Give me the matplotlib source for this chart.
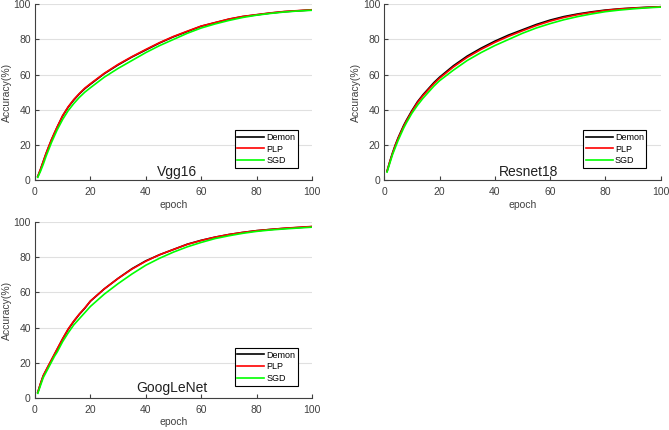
import matplotlib.pyplot as plt

plt.rcParams['font.family'] = ['Liberation Sans', 'DejaVu Sans']

epochs = [1, 2, 3, 4, 5, 6, 7, 8, 10, 12, 14, 16, 18, 20, 25, 30, 35, 40, 45, 50,
          55, 60, 65, 70, 75, 80, 85, 90, 95, 100]

vgg_demon = [2, 6, 10.5, 15, 19, 23, 26.5, 30, 36.5, 41.5, 45.5, 49, 52, 54.5, 60.5, 65.5,
             70, 74, 78, 81.5, 84.5, 87.5, 89.5, 91.5, 93, 94, 95, 95.8, 96.3, 96.8]
vgg_plp = [2, 6.2, 10.7, 15.2, 19.3, 23.2, 26.8, 30.2, 36.7, 41.7, 45.8, 49.2, 52.3, 54.8, 60.7, 65.8,
           70.2, 74.3, 78.2, 81.7, 84.7, 87.6, 89.6, 91.6, 93.1, 94.1, 95.1, 95.9, 96.4, 96.9]
vgg_sgd = [1.5, 5, 9, 13.5, 17.5, 21.5, 25, 28.5, 34.5, 39.5, 43.5, 47, 50, 52.5, 58.5, 63.5,
           68, 72.5, 76.5, 80, 83.5, 86.5, 88.8, 90.8, 92.5, 93.8, 94.8, 95.6, 96.2, 96.6]

res_demon = [5, 10.5, 15.5, 20, 24, 27.5, 31, 34, 39.5, 44.5, 48.5, 52, 55.5, 58.5, 65, 70.5,
             75, 79, 82.5, 85.5, 88.5, 91, 93, 94.5, 95.7, 96.7, 97.4, 97.9, 98.3, 98.6]
res_plp = [5, 10.3, 15.2, 19.7, 23.6, 27.1, 30.5, 33.5, 39, 44, 48, 51.5, 54.9, 57.9, 64.3, 69.8,
           74.3, 78.3, 81.8, 84.9, 87.9, 90.4, 92.5, 94.1, 95.4, 96.5, 97.3, 97.8, 98.2, 98.6]
res_sgd = [4.5, 9.5, 14.5, 18.5, 22.5, 26, 29.5, 32.5, 38, 42.5, 46.5, 50, 53.5, 56.5, 62.5, 68,
           72.5, 76.5, 80, 83.5, 86.5, 89, 91.2, 93, 94.5, 95.8, 96.7, 97.4, 98, 98.4]

goog_demon = [3, 8, 12.5, 15.5, 18.5, 21.5, 24.5, 27.5, 33.5, 39, 43.5, 47.5, 51, 55, 62, 68,
              73.5, 78, 81.5, 84.5, 87.5, 89.7, 91.5, 93, 94.2, 95.2, 95.9, 96.5, 97, 97.5]
goog_plp = [3, 8.2, 12.7, 15.8, 18.8, 21.8, 24.8, 27.8, 33.7, 39.2, 43.7, 47.7, 51.2, 55.1, 62, 68,
            73.3, 77.8, 81.5, 84.5, 87.4, 89.6, 91.5, 93, 94.2, 95.2, 95.9, 96.6, 97.1, 97.6]
goog_sgd = [2.5, 7, 11.5, 14.5, 17.5, 20.5, 23.5, 26, 32, 37, 41.5, 45, 48.5, 52, 59, 65,
            70.5, 75.5, 79.5, 83, 86, 88.5, 90.7, 92.3, 93.7, 94.8, 95.6, 96.2, 96.7, 97.2]

panels = [
    ("Vgg16", vgg_demon, vgg_plp, vgg_sgd, [0.0523, 0.5814, 0.414, 0.4086], 0.513, 0.046),
    ("Resnet18", res_demon, res_plp, res_sgd, [0.5744, 0.5814, 0.413, 0.4086], 0.521, 0.046),
    ("GoogLeNet", goog_demon, goog_plp, goog_sgd, [0.0523, 0.0751, 0.414, 0.408], 0.493, 0.054),
]

fig = plt.figure(figsize=(6.69, 4.30), dpi=100)
axis_color = '#404040'

for name, demon, plp, sgd, rect, tx, ty in panels:
    ax = fig.add_axes(rect)
    ax.plot(epochs, demon, color='black', lw=1.2, label='Demon')
    ax.plot(epochs, plp, color='#ff0000', lw=1.2, label='PLP')
    ax.plot(epochs, sgd, color='#00ff00', lw=1.2, label='SGD')
    ax.set_xlim(0, 100)
    ax.set_ylim(0, 100)
    ax.set_xticks([0, 20, 40, 60, 80, 100])
    ax.set_yticks([0, 20, 40, 60, 80, 100])
    ax.grid(axis='y', color='#e0e0e0', lw=0.8)
    ax.set_axisbelow(True)
    for s in ['top', 'right']:
        ax.spines[s].set_visible(False)
    for s in ['left', 'bottom']:
        ax.spines[s].set_color(axis_color)
        ax.spines[s].set_linewidth(0.8)
    ax.tick_params(direction='in', length=3, width=0.8, colors=axis_color,
                   labelsize=7.5)
    ax.tick_params(axis='x', pad=5)
    ax.tick_params(axis='y', pad=3)
    ax.set_xlabel('epoch', fontsize=7.5, color=axis_color, labelpad=2)
    ax.set_ylabel('Accuracy(%)', fontsize=7.5, color=axis_color, labelpad=1)
    ax.text(tx, ty, name, transform=ax.transAxes, ha='center', va='center',
            fontsize=10, color='#202020')
    leg = ax.legend(loc='lower right', bbox_to_anchor=(0.949, 0.068), borderaxespad=0,
                    fontsize=6.5, handlelength=3.0, handletextpad=0.2, fancybox=False,
                    framealpha=1, edgecolor='black', borderpad=0.3, labelspacing=0.3)
    leg.get_frame().set_linewidth(0.8)

fig.savefig('out.png', dpi=100)
